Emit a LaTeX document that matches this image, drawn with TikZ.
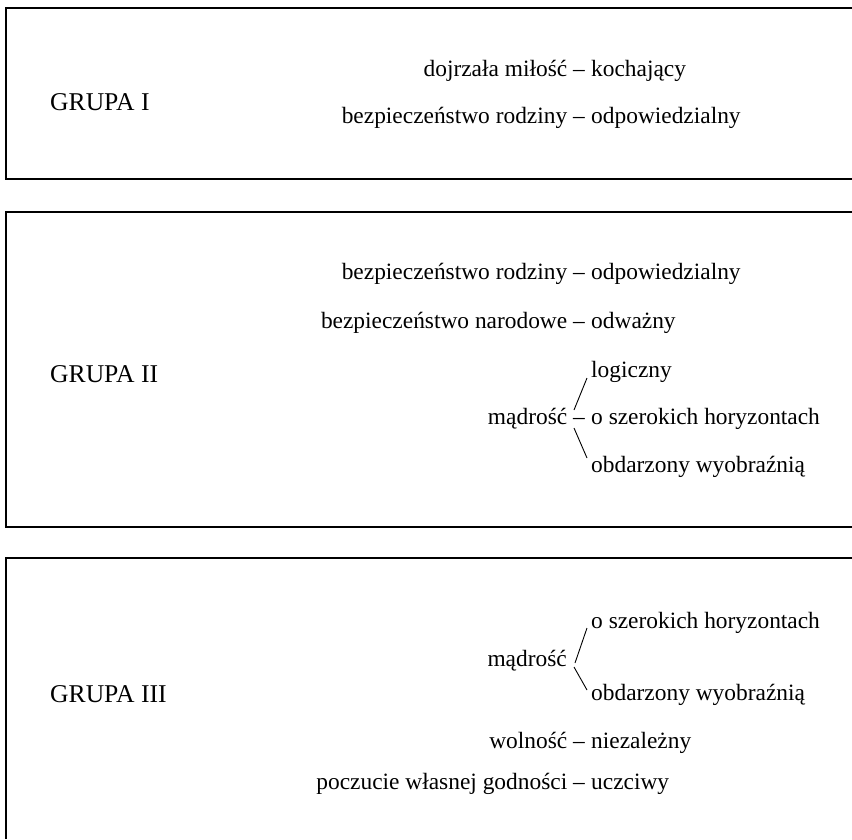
\documentclass[tikz,border=0pt]{standalone}
\usepackage{fontspec}
\setmainfont{Liberation Serif}

\tikzstyle{ramka}=[line width=2pt]
\tikzstyle{galaz}=[line width=0.9pt]
\tikzstyle{tekst}=[inner sep=0, font=\fontsize{23.4pt}{28pt}\selectfont]
\tikzstyle{grupa}=[tekst, anchor=base west, font=\fontsize{25.6pt}{30pt}\selectfont]
\tikzstyle{wartosc}=[tekst, anchor=base east]
\tikzstyle{cecha}=[tekst, anchor=base west]

\begin{document}
\begin{tikzpicture}[x=1pt, y=-1pt]

\useasboundingbox (0, 0) rectangle (852, 839);

\draw [ramka] (852, 8) -- (6, 8) -- (6, 179) -- (852, 179);
\draw [ramka] (852, 212) -- (6, 212) -- (6, 527) -- (852, 527);
\draw [ramka] (852, 558) -- (6, 558) -- (6, 839);

\node [grupa] (g1) at (50, 110) {GRUPA I};
\node [wartosc] (w11) at (585, 76) {dojrzała miłość –};
\node [cecha] (c11) at (591, 76) {kochający};
\node [wartosc] (w12) at (585, 123) {bezpieczeństwo rodziny –};
\node [cecha] (c12) at (591, 123) {odpowiedzialny};

\node [grupa] (g2) at (50, 382) {GRUPA II};
\node [wartosc] (w21) at (585, 279) {bezpieczeństwo rodziny –};
\node [cecha] (c21) at (591, 279) {odpowiedzialny};
\node [wartosc] (w22) at (585, 328) {bezpieczeństwo narodowe –};
\node [cecha] (c22) at (591, 328) {odważny};
\node [cecha] (c23) at (591, 377) {logiczny};
\node [wartosc] (w23) at (585, 424) {mądrość –};
\node [cecha] (c24) at (591, 424) {o szerokich horyzontach};
\node [cecha] (c25) at (591, 472) {obdarzony wyobraźnią};

\draw [galaz] ([shift={(-11,-14)}]w23.base east) -- ([shift={(-4,1)}]c23.base west);
\draw [galaz] ([shift={(-11,4)}]w23.base east) -- ([shift={(-4,-14)}]c25.base west);

\node [grupa] (g3) at (50, 702) {GRUPA III};
\node [cecha] (c31) at (591, 628) {o szerokich horyzontach};
\node [wartosc] (w31) at (567, 666) {mądrość};
\node [cecha] (c32) at (591, 700) {obdarzony wyobraźnią};
\node [wartosc] (w32) at (585, 748) {wolność –};
\node [cecha] (c33) at (591, 748) {niezależny};
\node [wartosc] (w33) at (585, 789) {poczucie własnej godności –};
\node [cecha] (c34) at (591, 789) {uczciwy};

\draw [galaz] ([shift={(8,-3)}]w31.base east) -- ([shift={(-4,0)}]c31.base west);
\draw [galaz] ([shift={(7,1)}]w31.base east) -- ([shift={(-4,-10)}]c32.base west);

\end{tikzpicture}
\end{document}
